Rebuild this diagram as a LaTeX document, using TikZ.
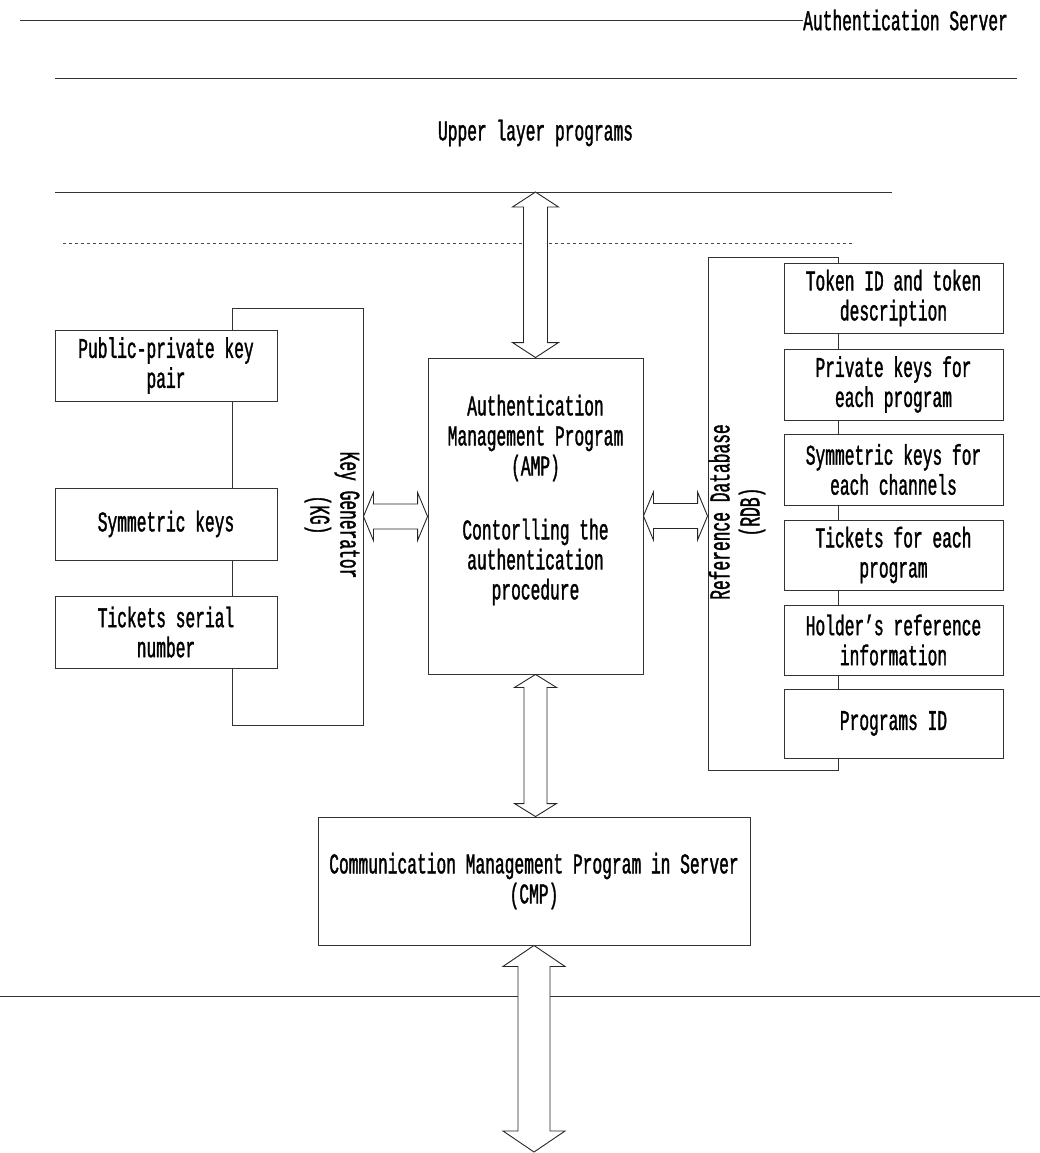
\documentclass[tikz,border=0pt]{standalone}
\usepackage{fontspec}
\setmainfont{Liberation Mono}[FakeStretch=0.57, FakeBold=1.2]
\usetikzlibrary{calc}

% vertical two-headed block arrow: top point, bottom point, shaft half width, head half width, head length
\newcommand\vdarrow[5]{%
  \draw[dblarrow] let \p1=(#1), \p2=(#2) in
    (\x1-#3pt,\y1-#5pt) -- (\x1-#4pt,\y1-#5pt) -- (\x1,\y1) -- (\x1+#4pt,\y1-#5pt) -- (\x1+#3pt,\y1-#5pt)
    -- (\x1+#3pt,\y2+#5pt) -- (\x1+#4pt,\y2+#5pt) -- (\x1,\y2) -- (\x1-#4pt,\y2+#5pt) -- (\x1-#3pt,\y2+#5pt) -- cycle;}
% horizontal two-headed block arrow: left point, right point, shaft half width, head half width, head length
\newcommand\hdarrow[5]{%
  \draw[dblarrow] let \p1=(#1), \p2=(#2) in
    (\x1+#5pt,\y1+#3pt) -- (\x1+#5pt,\y1+#4pt) -- (\x1,\y1) -- (\x1+#5pt,\y1-#4pt) -- (\x1+#5pt,\y1-#3pt)
    -- (\x2-#5pt,\y1-#3pt) -- (\x2-#5pt,\y1-#4pt) -- (\x2,\y1) -- (\x2-#5pt,\y1+#4pt) -- (\x2-#5pt,\y1+#3pt) -- cycle;}

\tikzset{
  every node/.style={font=\fontsize{28.5}{30}\selectfont, inner sep=0pt},
  frame/.style={draw=black!80, line width=0.9pt},
  rule/.style={draw=black!80, line width=0.9pt},
  dotrule/.style={draw=black!70, line width=0.9pt, dash pattern=on 3pt off 3pt},
  dblarrow/.style={draw=black!85, line width=0.9pt, fill=white},
  bracket/.style={frame, rectangle},
  leftbox/.style={frame, fill=white, minimum width=222pt, minimum height=71pt, align=center},
  rightbox/.style={frame, fill=white, minimum width=219pt, minimum height=70pt, align=center},
  label/.style={align=center},
}

\begin{document}
\begin{tikzpicture}[x=1pt,y=-1pt]
  \useasboundingbox (0,0) rectangle (1040,1153);

  % layer boundaries
  \node[anchor=west] (title) at (803,20) {Authentication Server};
  \coordinate (t0) at (20,20);
  \draw[rule] (t0) -- (title.west);

  \coordinate (u0) at (55,78);   \coordinate (u1) at (1017,78);
  \draw[rule] (u0) -- (u1);
  \node[label] (upper) at (535.5,133) {Upper layer programs};
  \coordinate (v0) at (55,192);  \coordinate (v1) at (892,192);
  \draw[rule] (v0) -- (v1);
  \coordinate (w0) at (63,243);  \coordinate (w1) at (853,243);
  \draw[dotrule] (w0) -- (w1);

  \coordinate (n0) at (0,996);   \coordinate (n1) at (1040,996);
  \draw[rule] (n0) -- (n1);

  % key generator group
  \node[bracket, minimum width=131pt, minimum height=417pt] (kg) at (297.5,516.5) {};
  \node[leftbox] (pp)  at (166,365.5) {Public-private key\\pair};
  \node[leftbox, minimum height=72pt] (sym) at (166,524) {Symmetric keys};
  \node[leftbox, minimum height=72pt] (tsn) at (166,632) {Tickets serial\\number};
  \node[label, rotate=-90] (kgt) at (332,515) {Key Generator\\(KG)};

  % authentication management program
  \node[frame, minimum width=215pt, minimum height=316pt] (amp) at (535.5,516) {};
  \node[label] (ampt) at (535.5,500) {Authentication\\Management Program\\(AMP)\\[34pt]Contorlling the\\authentication\\procedure};

  % reference database group
  \node[bracket, minimum width=130pt, minimum height=513pt] (rdb) at (773,513.5) {};
  \node[rightbox] (tok)  at (893.5,298) {Token ID and token\\description};
  \node[rightbox, minimum height=71pt] (prv) at (893.5,384.5) {Private keys for\\each program};
  \node[rightbox, minimum height=71pt] (syk) at (893.5,469.5) {Symmetric keys for\\each channels};
  \node[rightbox] (tck) at (893.5,555) {Tickets for each\\program};
  \node[rightbox] (hld) at (893.5,640) {Holder's reference\\information};
  \node[rightbox, minimum height=69pt] (pid) at (893.5,723.5) {Programs ID};
  \node[label, rotate=90] (rdbt) at (737,512) {Reference Database\\(RDB)};

  % communication management program
  \node[frame, minimum width=432pt, minimum height=128pt, align=center] (cmp) at (534,881)
    {Communication Management Program in Server\\(CMP)};

  % data paths
  \coordinate (upin) at (535.5,192);
  \coordinate (netout) at (535.5,1152);
  \vdarrow{upin}{amp.north}{12}{23}{15}
  \vdarrow{amp.south}{cmp.north}{11.5}{21}{13}
  \vdarrow{cmp.south}{netout}{16}{31}{21}
  \hdarrow{kg.east}{amp.west}{12.5}{24}{10}
  \hdarrow{amp.east}{rdb.west}{12.5}{24}{10}
\end{tikzpicture}
\end{document}
